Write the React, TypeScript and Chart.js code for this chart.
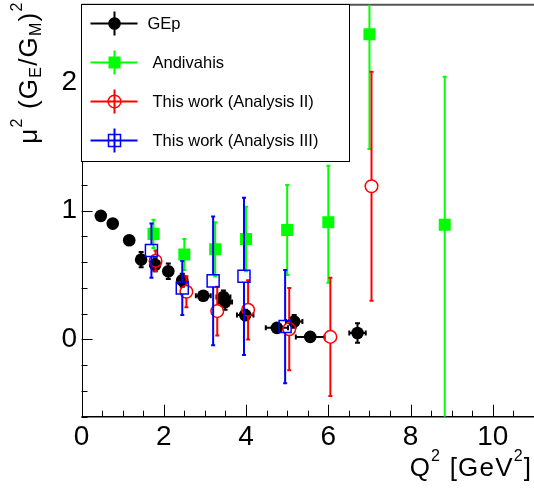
import React, { useEffect, useRef } from "react";
import { Chart, registerables } from "chart.js";

Chart.register(...registerables);

const FONT = "'Liberation Sans', Arial, Helvetica, sans-serif";

// ---- Data ----
// GEp (black filled circles)
const gepQ2 = [0.47, 0.76, 1.16, 1.45, 1.79, 2.11, 2.45, 2.96, 3.45, 3.49, 3.98, 4.75, 5.17, 5.56, 6.71];
const gepRatio = [0.96, 0.9, 0.77, 0.62, 0.58, 0.53, 0.46, 0.34, 0.33, 0.29, 0.19, 0.09, 0.14, 0.02, 0.05];
const gepQ2Err = [0, 0, 0, 0.05, 0.05, 0.05, 0.08, 0.18, 0.17, 0.17, 0.2, 0.27, 0.2, 0.35, 0.2];
const gepRatioErr = [0.01, 0.01, 0.01, 0.06, 0.05, 0.06, 0.05, 0.03, 0.05, 0.06, 0.04, 0.03, 0.05, 0.03, 0.075];

// Andivahis (green filled squares)
const andQ2 = [1.75, 2.5, 3.25, 4.0, 5.0, 6.0, 7.0, 8.83];
const andRatio = [0.82, 0.66, 0.7, 0.78, 0.85, 0.91, 2.37, 0.89];
const andRatioErrUp = [0.11, 0.12, 0.21, 0.25, 0.35, 0.44, 0.89, 1.15];
const andRatioErrLow = [0.11, 0.12, 0.21, 0.25, 0.35, 0.47, 0.89, 1.6];

// This work (Analysis II) (red open circles)
const a2Q2 = [1.8, 2.55, 3.3, 4.05, 5.05, 6.05, 7.05];
const a2Ratio = [0.61, 0.37, 0.22, 0.23, 0.08, 0.02, 1.19];
const a2RatioErr = [0.08, 0.12, 0.19, 0.23, 0.32, 0.46, 0.89];

// This work (Analysis III) (blue open squares)
const a3Q2 = [1.7, 2.45, 3.2, 3.95, 4.95];
const a3Ratio = [0.69, 0.4, 0.455, 0.49, 0.1];
const a3RatioErr = [0.21, 0.21, 0.5, 0.61, 0.44];

const legendLabels = ["GEp", "Andivahis", "This work (Analysis II)", "This work (Analysis III)"];
const xTicksStep = 2;
const yTicksStep = 1;

type Seg = [string, "n" | "sup" | "sub"];
const xTitle: Seg[] = [["Q", "n"], ["2", "sup"], [" [GeV", "n"], ["2", "sup"], ["]", "n"]];
const yTitle: Seg[] = [["\u03bc", "n"], ["2", "sup"], [" (G", "n"], ["E", "sub"], ["/G", "n"], ["M", "sub"], [")", "n"], ["2", "sup"]];

const MAIN = 26;
const SCRIPT = 16;
const SPACING = 1.2;

function richWidth(ctx: CanvasRenderingContext2D, segs: Seg[]) {
  let w = 0;
  for (const [t, k] of segs) {
    ctx.font = `${k === "n" ? MAIN : SCRIPT}px ${FONT}`;
    for (const ch of t) w += ctx.measureText(ch).width + SPACING;
  }
  return w - SPACING;
}

function drawRich(ctx: CanvasRenderingContext2D, segs: Seg[], x: number, y: number) {
  let cx = x;
  ctx.textBaseline = "alphabetic";
  ctx.textAlign = "left";
  for (const [t, k] of segs) {
    ctx.font = `${k === "n" ? MAIN : SCRIPT}px ${FONT}`;
    const dy = k === "sup" ? -15 : k === "sub" ? 4 : 0;
    for (const ch of t) {
      ctx.fillText(ch, cx, y + dy);
      cx += ctx.measureText(ch).width + SPACING;
    }
  }
}

function drawMarker(ctx: CanvasRenderingContext2D, kind: string, x: number, y: number, color: string) {
  ctx.save();
  ctx.beginPath();
  if (kind === "fcircle") {
    ctx.fillStyle = color;
    ctx.arc(x, y, 6.3, 0, Math.PI * 2);
    ctx.fill();
  } else if (kind === "fsquare") {
    ctx.fillStyle = color;
    ctx.rect(x - 6, y - 6, 12, 12);
    ctx.fill();
  } else if (kind === "ocircle") {
    ctx.strokeStyle = color;
    ctx.lineWidth = 1.5;
    ctx.arc(x, y, 6.3, 0, Math.PI * 2);
    ctx.stroke();
  } else {
    ctx.strokeStyle = color;
    ctx.lineWidth = 1.5;
    ctx.rect(x - 6, y - 6, 12, 12);
    ctx.stroke();
  }
  ctx.restore();
}

const legendStyle = [
  { kind: "fcircle", color: "#000000", textDx: 0 },
  { kind: "fsquare", color: "#00ff00", textDx: 5 },
  { kind: "ocircle", color: "#ff0000", textDx: 5 },
  { kind: "osquare", color: "#0000ff", textDx: 5 },
];

const rootPlugin = {
  id: "rootStyle",
  beforeDatasetsDraw(chart: any) {
    const ctx: CanvasRenderingContext2D = chart.ctx;
    const { left, right, top, bottom } = chart.chartArea;
    const xs = chart.scales.x;
    const ys = chart.scales.y;
    ctx.save();
    ctx.strokeStyle = "#000";
    ctx.lineWidth = 1;
    for (let k = Math.ceil(xs.min / 0.5 - 1e-6); k * 0.5 <= xs.max + 1e-9; k++) {
      const v = k * 0.5;
      const px = Math.round(xs.getPixelForValue(v)) + 0.5;
      const major = k % 4 === 0;
      const len = major ? 12 : 6;
      ctx.beginPath();
      ctx.moveTo(px, bottom);
      ctx.lineTo(px, bottom - len);
      ctx.stroke();
    }
    for (let k = Math.ceil(ys.min / 0.2 - 1e-6); k * 0.2 <= ys.max + 1e-9; k++) {
      const v = k * 0.2;
      const py = Math.round(ys.getPixelForValue(v)) + 0.5;
      const major = k % 5 === 0;
      const len = major ? 11 : 6;
      ctx.beginPath();
      ctx.moveTo(left, py);
      ctx.lineTo(left + len, py);
      ctx.stroke();
    }
    ctx.beginPath();
    ctx.moveTo(Math.round(left) + 0.5, top);
    ctx.lineTo(Math.round(left) + 0.5, bottom);
    ctx.stroke();
    ctx.lineWidth = 1.5;
    ctx.beginPath();
    ctx.moveTo(left, bottom);
    ctx.lineTo(right, bottom);
    ctx.stroke();
    ctx.strokeStyle = "#555";
    ctx.lineWidth = 2;
    ctx.beginPath();
    ctx.moveTo(left, top);
    ctx.lineTo(right, top);
    ctx.stroke();
    ctx.restore();
  },
  beforeDatasetDraw(chart: any, args: any) {
    const ds = chart.data.datasets[args.index];
    const ctx: CanvasRenderingContext2D = chart.ctx;
    const { left, right, top, bottom } = chart.chartArea;
    const xs = chart.scales.x;
    const ys = chart.scales.y;
    const gap: number = ds.errGap || 0;
    const cap: number = ds.errCap || 2;
    ctx.save();
    ctx.beginPath();
    ctx.rect(left, top, right - left, bottom - top);
    ctx.clip();
    ctx.strokeStyle = ds.errColor;
    ctx.lineWidth = 2;
    const seg = (x1: number, y1: number, x2: number, y2: number) => {
      ctx.beginPath();
      ctx.moveTo(x1, y1);
      ctx.lineTo(x2, y2);
      ctx.stroke();
    };
    ds.data.forEach((p: any, i: number) => {
      const cx = xs.getPixelForValue(p.x);
      const cy = ys.getPixelForValue(p.y);
      const eyUp = ds.yErr ? ds.yErr[i] : 0;
      const eyLow = ds.yErrLow ? ds.yErrLow[i] : eyUp;
      const ex = ds.xErr ? ds.xErr[i] : 0;
      if (eyUp > 0) {
        const pt = ys.getPixelForValue(p.y + eyUp);
        if (cy - pt > gap) {
          seg(cx, cy - gap, cx, pt);
          seg(cx - cap, pt, cx + cap, pt);
        }
      }
      if (eyLow > 0) {
        const pb = ys.getPixelForValue(p.y - eyLow);
        if (pb - cy > gap) {
          seg(cx, cy + gap, cx, pb);
          seg(cx - cap, pb, cx + cap, pb);
        }
      }
      if (ex > 0) {
        const pl = xs.getPixelForValue(p.x - ex);
        const pr = xs.getPixelForValue(p.x + ex);
        if (cx - pl > gap) {
          seg(cx - gap, cy, pl, cy);
          seg(pl, cy - cap, pl, cy + cap);
        }
        if (pr - cx > gap) {
          seg(cx + gap, cy, pr, cy);
          seg(pr, cy - cap, pr, cy + cap);
        }
      }
    });
    ctx.restore();
  },
  afterDraw(chart: any) {
    const ctx: CanvasRenderingContext2D = chart.ctx;
    const { left, right, top } = chart.chartArea;
    ctx.save();
    const lx = Math.round(left) - 0.5;
    const ly = Math.round(top) - 0.5;
    const lw = 268;
    const lh = 157;
    ctx.fillStyle = "#fff";
    ctx.fillRect(lx, ly, lw, lh);
    ctx.strokeStyle = "#000";
    ctx.lineWidth = 1;
    ctx.strokeRect(lx, ly, lw, lh);
    legendLabels.forEach((label, i) => {
      const st = legendStyle[i];
      const ry = ly + 19 + i * 39;
      const mx = lx + 33;
      ctx.strokeStyle = st.color;
      ctx.lineWidth = 2;
      ctx.beginPath();
      ctx.moveTo(lx + 9, ry);
      ctx.lineTo(lx + 56, ry);
      ctx.moveTo(mx, ry - 12);
      ctx.lineTo(mx, ry + 12);
      ctx.stroke();
      drawMarker(ctx, st.kind, mx, ry, st.color);
      ctx.fillStyle = "#000";
      ctx.font = `16.5px ${FONT}`;
      ctx.textAlign = "left";
      ctx.textBaseline = "middle";
      ctx.fillText(label, lx + 66 + st.textDx, ry + 1);
    });
    ctx.fillStyle = "#000";
    const xw = richWidth(ctx, xTitle);
    drawRich(ctx, xTitle, right - 3 - xw, 476);
    const yw = richWidth(ctx, yTitle);
    ctx.translate(37, top - 2);
    ctx.rotate(-Math.PI / 2);
    drawRich(ctx, yTitle, -yw, 0);
    ctx.restore();
  },
};

export default function App() {
  const ref = useRef<HTMLCanvasElement | null>(null);
  useEffect(() => {
    if (!ref.current) return;
    const mk = (xs: number[], ys: number[]) => xs.map((x, i) => ({ x, y: ys[i] }));
    const zeroPad = (s: any) => {
      s.paddingTop = 0;
      s.paddingBottom = 0;
      s.paddingLeft = 0;
      s.paddingRight = 0;
    };
    const chart = new Chart(ref.current, {
      type: "scatter",
      data: {
        datasets: [
          {
            label: legendLabels[3],
            data: mk(a3Q2, a3Ratio),
            yErr: a3RatioErr,
            errColor: "#0000ff",
            errGap: 6,
            errCap: 2,
            pointStyle: "rect",
            pointRadius: 8.5,
            backgroundColor: "rgba(0,0,0,0)",
            borderColor: "#0000ff",
            borderWidth: 1.5,
            order: 1,
          } as any,
          {
            label: legendLabels[2],
            data: mk(a2Q2, a2Ratio),
            yErr: a2RatioErr,
            errColor: "#ff0000",
            errGap: 6.3,
            errCap: 2,
            pointStyle: "circle",
            pointRadius: 6.3,
            backgroundColor: "rgba(0,0,0,0)",
            borderColor: "#ff0000",
            borderWidth: 1.5,
            order: 2,
          } as any,
          {
            label: legendLabels[1],
            data: mk(andQ2, andRatio),
            yErr: andRatioErrUp,
            yErrLow: andRatioErrLow,
            errColor: "#00ff00",
            errGap: 0,
            errCap: 2,
            pointStyle: "rect",
            pointRadius: 8.5,
            backgroundColor: "#00ff00",
            borderColor: "#00ff00",
            borderWidth: 0,
            order: 3,
          } as any,
          {
            label: legendLabels[0],
            data: mk(gepQ2, gepRatio),
            xErr: gepQ2Err,
            yErr: gepRatioErr,
            errColor: "#000000",
            errGap: 0,
            errCap: 2.5,
            pointStyle: "circle",
            pointRadius: 6.3,
            backgroundColor: "#000000",
            borderColor: "#000000",
            borderWidth: 0,
            order: 4,
          } as any,
        ],
      },
      options: {
        animation: false,
        responsive: true,
        maintainAspectRatio: false,
        events: [],
        layout: { autoPadding: false, padding: { top: 4.7, right: 0, left: 0, bottom: 0 } },
        plugins: { legend: { display: false }, tooltip: { enabled: false } },
        scales: {
          x: {
            type: "linear",
            min: 0,
            max: 11,
            grid: { display: false, drawTicks: false },
            border: { display: false },
            ticks: {
              stepSize: xTicksStep,
              includeBounds: false,
              color: "#000",
              padding: 4,
              maxRotation: 0,
              font: { family: FONT, size: 28 },
            },
            afterFit: (s: any) => {
              s.height = 75.3;
              zeroPad(s);
            },
          },
          y: {
            type: "linear",
            min: -0.6,
            max: 2.6,
            grid: { display: false, drawTicks: false },
            border: { display: false },
            ticks: {
              stepSize: yTicksStep,
              includeBounds: false,
              color: "#000",
              padding: 4.5,
              font: { family: FONT, size: 28 },
            },
            afterFit: (s: any) => {
              s.width = 81.5;
              zeroPad(s);
            },
          },
        },
      },
      plugins: [rootPlugin],
    } as any);
    return () => chart.destroy();
  }, []);
  return (
    <div style={{ position: "fixed", left: 0, top: 0, width: 534, height: 492, background: "#fff" }}>
      <canvas ref={ref} />
    </div>
  );
}
